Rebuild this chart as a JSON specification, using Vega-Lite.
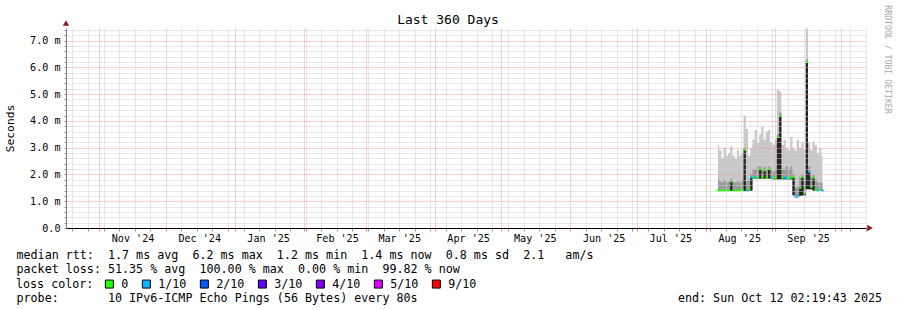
{
  "$schema": "https://vega.github.io/schema/vega-lite/v6.json",
  "width": 800,
  "height": 200,
  "autosize": {"type": "none"},
  "padding": {"left": 66, "top": 28, "right": 31, "bottom": 82},
  "background": "white",
  "config": {"view": {"stroke": null}, "font": "DejaVu Sans Mono"},
  "title": {
    "text": "Last 360 Days",
    "font": "DejaVu Sans Mono",
    "fontSize": 13,
    "fontWeight": "normal",
    "color": "black",
    "anchor": "middle",
    "frame": "group",
    "dx": -18,
    "dy": 36.5,
    "baseline": "alphabetic",
    "offset": 4
  },
  "datasets": {
    "smoke": [
      {"t": "2025-08-06T12:00:00Z", "lo": 1.38, "med": 1.40, "mid": 1.85, "hi": 3.10, "loss": "0"},
      {"t": "2025-08-07T12:00:00Z", "lo": 1.38, "med": 1.40, "mid": 1.75, "hi": 2.90, "loss": "0"},
      {"t": "2025-08-08T12:00:00Z", "lo": 1.38, "med": 1.40, "mid": 1.70, "hi": 2.60, "loss": "0"},
      {"t": "2025-08-09T12:00:00Z", "lo": 1.38, "med": 1.40, "mid": 1.80, "hi": 3.00, "loss": "0"},
      {"t": "2025-08-10T12:00:00Z", "lo": 1.38, "med": 1.40, "mid": 1.70, "hi": 2.70, "loss": "0"},
      {"t": "2025-08-11T12:00:00Z", "lo": 1.38, "med": 1.40, "mid": 1.75, "hi": 2.80, "loss": "0"},
      {"t": "2025-08-12T12:00:00Z", "lo": 1.38, "med": 1.74, "mid": 1.85, "hi": 3.05, "loss": "0"},
      {"t": "2025-08-13T12:00:00Z", "lo": 1.38, "med": 1.40, "mid": 1.70, "hi": 2.70, "loss": "0"},
      {"t": "2025-08-14T12:00:00Z", "lo": 1.38, "med": 1.40, "mid": 1.70, "hi": 2.60, "loss": "0"},
      {"t": "2025-08-15T12:00:00Z", "lo": 1.38, "med": 1.40, "mid": 1.75, "hi": 2.90, "loss": "0"},
      {"t": "2025-08-16T12:00:00Z", "lo": 1.38, "med": 1.40, "mid": 1.70, "hi": 2.70, "loss": "0"},
      {"t": "2025-08-17T12:00:00Z", "lo": 1.38, "med": 1.42, "mid": 1.80, "hi": 2.80, "loss": "0"},
      {"t": "2025-08-18T12:00:00Z", "lo": 1.38, "med": 2.92, "mid": 3.00, "hi": 4.20, "loss": "0"},
      {"t": "2025-08-19T12:00:00Z", "lo": 1.38, "med": 1.40, "mid": 1.75, "hi": 3.70, "loss": "1/10"},
      {"t": "2025-08-20T12:00:00Z", "lo": 1.40, "med": 1.45, "mid": 1.80, "hi": 2.70, "loss": "0"},
      {"t": "2025-08-21T12:00:00Z", "lo": 1.40, "med": 1.90, "mid": 2.00, "hi": 3.00, "loss": "1/10"},
      {"t": "2025-08-22T12:00:00Z", "lo": 1.86, "med": 1.88, "mid": 2.20, "hi": 3.30, "loss": "0"},
      {"t": "2025-08-23T12:00:00Z", "lo": 1.85, "med": 1.88, "mid": 2.20, "hi": 3.66, "loss": "1/10"},
      {"t": "2025-08-24T12:00:00Z", "lo": 1.85, "med": 1.90, "mid": 2.30, "hi": 3.20, "loss": "0"},
      {"t": "2025-08-25T12:00:00Z", "lo": 1.85, "med": 2.20, "mid": 2.30, "hi": 3.50, "loss": "0"},
      {"t": "2025-08-26T12:00:00Z", "lo": 1.85, "med": 1.90, "mid": 2.20, "hi": 3.80, "loss": "0"},
      {"t": "2025-08-27T12:00:00Z", "lo": 1.85, "med": 2.15, "mid": 2.30, "hi": 3.30, "loss": "0"},
      {"t": "2025-08-28T12:00:00Z", "lo": 1.85, "med": 1.88, "mid": 2.20, "hi": 3.60, "loss": "0"},
      {"t": "2025-08-29T12:00:00Z", "lo": 1.85, "med": 2.20, "mid": 2.30, "hi": 3.66, "loss": "0"},
      {"t": "2025-08-30T12:00:00Z", "lo": 1.85, "med": 1.90, "mid": 2.20, "hi": 3.20, "loss": "1/10"},
      {"t": "2025-08-31T12:00:00Z", "lo": 1.82, "med": 1.86, "mid": 2.10, "hi": 3.10, "loss": "0"},
      {"t": "2025-09-01T12:00:00Z", "lo": 1.82, "med": 1.88, "mid": 2.20, "hi": 3.30, "loss": "0"},
      {"t": "2025-09-02T12:00:00Z", "lo": 1.82, "med": 3.40, "mid": 3.50, "hi": 5.16, "loss": "0"},
      {"t": "2025-09-03T12:00:00Z", "lo": 1.82, "med": 4.20, "mid": 4.30, "hi": 5.10, "loss": "0"},
      {"t": "2025-09-04T12:00:00Z", "lo": 1.82, "med": 1.88, "mid": 2.20, "hi": 3.10, "loss": "0"},
      {"t": "2025-09-05T12:00:00Z", "lo": 1.82, "med": 1.88, "mid": 2.20, "hi": 3.30, "loss": "1/10"},
      {"t": "2025-09-06T12:00:00Z", "lo": 1.82, "med": 1.86, "mid": 2.30, "hi": 3.00, "loss": "1/10"},
      {"t": "2025-09-07T12:00:00Z", "lo": 1.82, "med": 1.88, "mid": 2.20, "hi": 2.90, "loss": "0"},
      {"t": "2025-09-08T12:00:00Z", "lo": 1.82, "med": 1.88, "mid": 2.30, "hi": 3.40, "loss": "0"},
      {"t": "2025-09-09T12:00:00Z", "lo": 1.22, "med": 1.90, "mid": 2.00, "hi": 3.00, "loss": "0"},
      {"t": "2025-09-10T12:00:00Z", "lo": 1.15, "med": 1.18, "mid": 1.50, "hi": 2.90, "loss": "1/10"},
      {"t": "2025-09-11T12:00:00Z", "lo": 1.15, "med": 1.20, "mid": 1.55, "hi": 3.30, "loss": "1/10"},
      {"t": "2025-09-12T12:00:00Z", "lo": 1.20, "med": 1.50, "mid": 1.90, "hi": 3.00, "loss": "0"},
      {"t": "2025-09-13T12:00:00Z", "lo": 1.22, "med": 1.90, "mid": 2.00, "hi": 3.20, "loss": "0"},
      {"t": "2025-09-14T12:00:00Z", "lo": 1.22, "med": 1.30, "mid": 1.80, "hi": 2.90, "loss": "0"},
      {"t": "2025-09-15T12:00:00Z", "lo": 1.45, "med": 6.20, "mid": 6.30, "hi": 7.46, "loss": "0"},
      {"t": "2025-09-16T12:00:00Z", "lo": 1.45, "med": 2.10, "mid": 2.30, "hi": 3.20, "loss": "1/10"},
      {"t": "2025-09-17T12:00:00Z", "lo": 1.45, "med": 1.53, "mid": 1.90, "hi": 2.90, "loss": "0"},
      {"t": "2025-09-18T12:00:00Z", "lo": 1.40, "med": 1.88, "mid": 2.00, "hi": 3.23, "loss": "0"},
      {"t": "2025-09-19T12:00:00Z", "lo": 1.38, "med": 1.42, "mid": 1.80, "hi": 3.10, "loss": "0"},
      {"t": "2025-09-20T12:00:00Z", "lo": 1.38, "med": 1.40, "mid": 1.70, "hi": 2.80, "loss": "1/10"},
      {"t": "2025-09-21T12:00:00Z", "lo": 1.38, "med": 1.42, "mid": 1.70, "hi": 3.00, "loss": "0"},
      {"t": "2025-09-22T12:00:00Z", "lo": 1.38, "med": 1.40, "mid": 1.70, "hi": 2.70, "loss": "1/10"}
    ]
  },
  "resolve": {"axis": {"x": "independent", "y": "independent"}},
  "layer": [
    {
      "data": {"name": "smoke"},
      "encoding": {
        "x": {
          "field": "t",
          "type": "temporal",
          "scale": {"domain": [
            {"year": 2024, "month": 10, "date": 17, "hours": 2, "minutes": 19, "seconds": 43, "utc": true},
            {"year": 2025, "month": 10, "date": 12, "hours": 2, "minutes": 19, "seconds": 43, "utc": true}
          ]},
          "axis": {
            "zindex": 1,
            "tickCount": 500,
            "values": [
              {"year": 2024, "month": 10, "date": 20, "utc": true},
              {"year": 2024, "month": 10, "date": 27, "utc": true},
              {"year": 2024, "month": 11, "date": 3, "utc": true},
              {"year": 2024, "month": 11, "date": 10, "utc": true},
              {"year": 2024, "month": 11, "date": 17, "utc": true},
              {"year": 2024, "month": 11, "date": 24, "utc": true},
              {"year": 2024, "month": 12, "date": 8, "utc": true},
              {"year": 2024, "month": 12, "date": 15, "utc": true},
              {"year": 2024, "month": 12, "date": 22, "utc": true},
              {"year": 2024, "month": 12, "date": 29, "utc": true},
              {"year": 2025, "month": 1, "date": 5, "utc": true},
              {"year": 2025, "month": 1, "date": 12, "utc": true},
              {"year": 2025, "month": 1, "date": 19, "utc": true},
              {"year": 2025, "month": 1, "date": 26, "utc": true},
              {"year": 2025, "month": 2, "date": 2, "utc": true},
              {"year": 2025, "month": 2, "date": 9, "utc": true},
              {"year": 2025, "month": 2, "date": 16, "utc": true},
              {"year": 2025, "month": 2, "date": 23, "utc": true},
              {"year": 2025, "month": 3, "date": 2, "utc": true},
              {"year": 2025, "month": 3, "date": 9, "utc": true},
              {"year": 2025, "month": 3, "date": 16, "utc": true},
              {"year": 2025, "month": 3, "date": 23, "utc": true},
              {"year": 2025, "month": 3, "date": 30, "utc": true},
              {"year": 2025, "month": 4, "date": 6, "utc": true},
              {"year": 2025, "month": 4, "date": 13, "utc": true},
              {"year": 2025, "month": 4, "date": 20, "utc": true},
              {"year": 2025, "month": 4, "date": 27, "utc": true},
              {"year": 2025, "month": 5, "date": 4, "utc": true},
              {"year": 2025, "month": 5, "date": 11, "utc": true},
              {"year": 2025, "month": 5, "date": 18, "utc": true},
              {"year": 2025, "month": 5, "date": 25, "utc": true},
              {"year": 2025, "month": 6, "date": 8, "utc": true},
              {"year": 2025, "month": 6, "date": 15, "utc": true},
              {"year": 2025, "month": 6, "date": 22, "utc": true},
              {"year": 2025, "month": 6, "date": 29, "utc": true},
              {"year": 2025, "month": 7, "date": 6, "utc": true},
              {"year": 2025, "month": 7, "date": 13, "utc": true},
              {"year": 2025, "month": 7, "date": 20, "utc": true},
              {"year": 2025, "month": 7, "date": 27, "utc": true},
              {"year": 2025, "month": 8, "date": 3, "utc": true},
              {"year": 2025, "month": 8, "date": 10, "utc": true},
              {"year": 2025, "month": 8, "date": 17, "utc": true},
              {"year": 2025, "month": 8, "date": 24, "utc": true},
              {"year": 2025, "month": 8, "date": 31, "utc": true},
              {"year": 2025, "month": 9, "date": 7, "utc": true},
              {"year": 2025, "month": 9, "date": 14, "utc": true},
              {"year": 2025, "month": 9, "date": 21, "utc": true},
              {"year": 2025, "month": 9, "date": 28, "utc": true},
              {"year": 2025, "month": 10, "date": 5, "utc": true},
              {"year": 2025, "month": 10, "date": 12, "utc": true},
              {"year": 2024, "month": 11, "date": 1, "utc": true},
              {"year": 2024, "month": 12, "date": 1, "utc": true},
              {"year": 2025, "month": 1, "date": 1, "utc": true},
              {"year": 2025, "month": 2, "date": 1, "utc": true},
              {"year": 2025, "month": 3, "date": 1, "utc": true},
              {"year": 2025, "month": 4, "date": 1, "utc": true},
              {"year": 2025, "month": 5, "date": 1, "utc": true},
              {"year": 2025, "month": 6, "date": 1, "utc": true},
              {"year": 2025, "month": 7, "date": 1, "utc": true},
              {"year": 2025, "month": 8, "date": 1, "utc": true},
              {"year": 2025, "month": 9, "date": 1, "utc": true},
              {"year": 2025, "month": 10, "date": 1, "utc": true},
              {"year": 2024, "month": 11, "date": 16, "hours": 1, "utc": true},
              {"year": 2024, "month": 12, "date": 16, "hours": 1, "utc": true},
              {"year": 2025, "month": 1, "date": 16, "hours": 1, "utc": true},
              {"year": 2025, "month": 2, "date": 16, "hours": 1, "utc": true},
              {"year": 2025, "month": 3, "date": 16, "hours": 1, "utc": true},
              {"year": 2025, "month": 4, "date": 16, "hours": 1, "utc": true},
              {"year": 2025, "month": 5, "date": 16, "hours": 1, "utc": true},
              {"year": 2025, "month": 6, "date": 16, "hours": 1, "utc": true},
              {"year": 2025, "month": 7, "date": 16, "hours": 1, "utc": true},
              {"year": 2025, "month": 8, "date": 16, "hours": 1, "utc": true},
              {"year": 2025, "month": 9, "date": 16, "hours": 1, "utc": true}
            ],
            "labelExpr": "utchours(datum.value) == 1 ? utcFormat(datum.value, \"%b '%y\") : ''",
            "labelFont": "DejaVu Sans Mono",
            "labelFontSize": 10.1,
            "labelColor": "black",
            "labelAngle": 0,
            "labelAlign": "center",
            "labelBaseline": "top",
            "labelPadding": 2.5,
            "labelOverlap": false,
            "labelFlush": false,
            "domainColor": "black",
            "domainWidth": 1,
            "tickSize": 3,
            "tickColor": {"condition": {"test": "utcdate(datum.value) == 1 && utchours(datum.value) == 0", "value": "#e88080"}, "value": "#999999"},
            "tickOpacity": {"condition": {"test": "utchours(datum.value) == 1", "value": 0}, "value": 1},
            "grid": true,
            "gridDash": [1, 1],
            "gridColor": {"condition": {"test": "utcdate(datum.value) == 1 && utchours(datum.value) == 0", "value": "#f2a0a0"}, "value": "#d0d0d0"},
            "gridOpacity": {"condition": {"test": "utchours(datum.value) == 1", "value": 0}, "value": 1},
            "title": [
              "median rtt:\u00a0\u00a01.7 ms avg\u00a0\u00a06.2 ms max\u00a0\u00a01.2 ms min\u00a0\u00a01.4 ms now\u00a0\u00a00.8 ms sd\u00a0\u00a02.1\u00a0\u00a0\u00a0am/s",
              "packet loss: 51.35 % avg\u00a0\u00a0100.00 % max\u00a0\u00a00.00 % min\u00a0\u00a099.82 % now"
            ],
            "titleFont": "DejaVu Sans Mono",
            "titleFontSize": 11.7,
            "titleFontWeight": "normal",
            "titleColor": "black",
            "titleAlign": "left",
            "titleBaseline": "alphabetic",
            "titleLineHeight": 14.2,
            "titleX": -50,
            "titleY": 30.5,
            "titleAngle": 0
          }
        }
      },
      "layer": [
        {
          "mark": {"type": "area", "interpolate": "step", "color": "#c8c8c8"},
          "encoding": {
            "y": {
              "field": "hi",
              "type": "quantitative",
              "scale": {"domain": [0, 7.47], "nice": false, "zero": true},
              "axis": {
                "zindex": 1,
                "orient": "left",
                "tickCount": 500,
                "values": [0, 0.2, 0.4, 0.6, 0.8, 1, 1.2, 1.4, 1.6, 1.8, 2, 2.2, 2.4, 2.6, 2.8, 3, 3.2, 3.4, 3.6, 3.8, 4, 4.2, 4.4, 4.6, 4.8, 5, 5.2, 5.4, 5.6, 5.8, 6, 6.2, 6.4, 6.6, 6.8, 7, 7.2, 7.4],
                "labelExpr": "abs(datum.value - round(datum.value)) < 0.01 ? (datum.value < 0.01 ? '0.0' : format(datum.value, '.1f') + ' m') : ''",
                "labelFont": "DejaVu Sans Mono",
                "labelFontSize": 10.1,
                "labelColor": "black",
                "labelPadding": 4,
                "labelOverlap": false,
                "labelFlush": false,
                "domainColor": "#808080",
                "tickSize": 2,
                "tickColor": "#909090",
                "grid": true,
                "gridDash": [1, 1],
                "gridColor": {"condition": {"test": "abs(datum.value - round(datum.value)) < 0.01", "value": "#f2a0a0"}, "value": "#d0d0d0"},
                "title": "Seconds",
                "titleFont": "DejaVu Sans Mono",
                "titleFontSize": 11.3,
                "titleFontWeight": "normal",
                "titleColor": "black",
                "titleAngle": -90,
                "titleAlign": "center",
                "titleBaseline": "middle",
                "titleX": -55.5,
                "titleY": 100
              }
            },
            "y2": {"field": "lo"}
          }
        },
        {
          "mark": {"type": "area", "interpolate": "step", "color": "#9a9a9a"},
          "encoding": {
            "y": {"field": "mid", "type": "quantitative"},
            "y2": {"field": "lo"}
          }
        },
        {
          "mark": {"type": "area", "interpolate": "step", "color": "#222222"},
          "encoding": {
            "y": {"field": "med", "type": "quantitative"},
            "y2": {"field": "lo"}
          }
        },
        {
          "mark": {"type": "tick", "orient": "horizontal", "size": 2.4, "thickness": 2, "opacity": 1},
          "encoding": {
            "y": {"field": "med", "type": "quantitative"},
            "color": {
              "field": "loss",
              "type": "nominal",
              "scale": {
                "domain": ["0", "1/10", "2/10", "3/10", "4/10", "5/10", "9/10"],
                "range": ["#26ff00", "#00b8ff", "#0059ff", "#5e00ff", "#7e00ff", "#dd00ff", "#ff0000"]
              },
              "legend": {
                "orient": "none",
                "legendX": -50,
                "legendY": 250,
                "direction": "horizontal",
                "columns": 7,
                "title": "loss color:",
                "titleOrient": "left",
                "titleFont": "DejaVu Sans Mono",
                "titleFontSize": 11.7,
                "titleFontWeight": "normal",
                "titleColor": "black",
                "titlePadding": 9.5,
                "titleBaseline": "middle",
                "labelFont": "DejaVu Sans Mono",
                "labelFontSize": 11.7,
                "labelColor": "black",
                "labelOffset": 6,
                "columnPadding": 11,
                "symbolType": "square",
                "symbolSize": 64,
                "symbolStrokeColor": "black",
                "symbolStrokeWidth": 1,
                "symbolOpacity": 1,
                "encode": {"symbols": {"update": {"stroke": {"value": "black"}, "strokeWidth": {"value": 1}, "opacity": {"value": 1}}}}
              }
            }
          }
        }
      ]
    },
    {
      "encoding": {
        "x": {
          "field": "t",
          "type": "temporal",
          "axis": {
            "orient": "bottom",
            "domain": false,
            "ticks": false,
            "labels": false,
            "grid": false,
            "title": "probe:\u00a0\u00a0\u00a0\u00a0\u00a0\u00a0\u00a010 IPv6-ICMP Echo Pings (56 Bytes) every 80s\u00a0\u00a0\u00a0\u00a0\u00a0\u00a0\u00a0\u00a0\u00a0\u00a0\u00a0\u00a0\u00a0\u00a0\u00a0\u00a0\u00a0\u00a0\u00a0\u00a0\u00a0\u00a0\u00a0\u00a0\u00a0\u00a0\u00a0\u00a0\u00a0\u00a0\u00a0\u00a0\u00a0\u00a0\u00a0\u00a0\u00a0end: Sun Oct 12 02:19:43 2025",
            "titleFont": "DejaVu Sans Mono",
            "titleFontSize": 11.7,
            "titleFontWeight": "normal",
            "titleColor": "black",
            "titleAlign": "left",
            "titleBaseline": "alphabetic",
            "titleAngle": 0,
            "titleX": -50,
            "titleY": 73
          }
        },
        "y": {
          "field": "v",
          "type": "quantitative",
          "axis": {
            "orient": "right",
            "domain": false,
            "ticks": false,
            "labels": false,
            "grid": false,
            "title": "RRDTOOL / TOBI OETIKER",
            "titleFont": "DejaVu Sans Mono",
            "titleFontSize": 8.2,
            "titleFontWeight": "normal",
            "titleColor": "#aaaaaa",
            "titleAngle": 90,
            "titleAlign": "center",
            "titleBaseline": "middle",
            "titleX": 20,
            "titleY": 31
          }
        }
      },
      "layer": [
        {
          "data": {"values": [{"t": "2024-10-17T02:19:43Z", "v": 7.47}]},
          "mark": {"type": "point", "shape": "triangle-up", "filled": true, "size": 40, "color": "#8b1a1a", "opacity": 1, "yOffset": -5}
        },
        {
          "data": {"values": [{"t": "2025-10-12T02:19:43Z", "v": 0}]},
          "mark": {"type": "point", "shape": "triangle-right", "filled": true, "size": 40, "color": "#8b1a1a", "opacity": 1, "xOffset": 4}
        }
      ]
    }
  ]
}
